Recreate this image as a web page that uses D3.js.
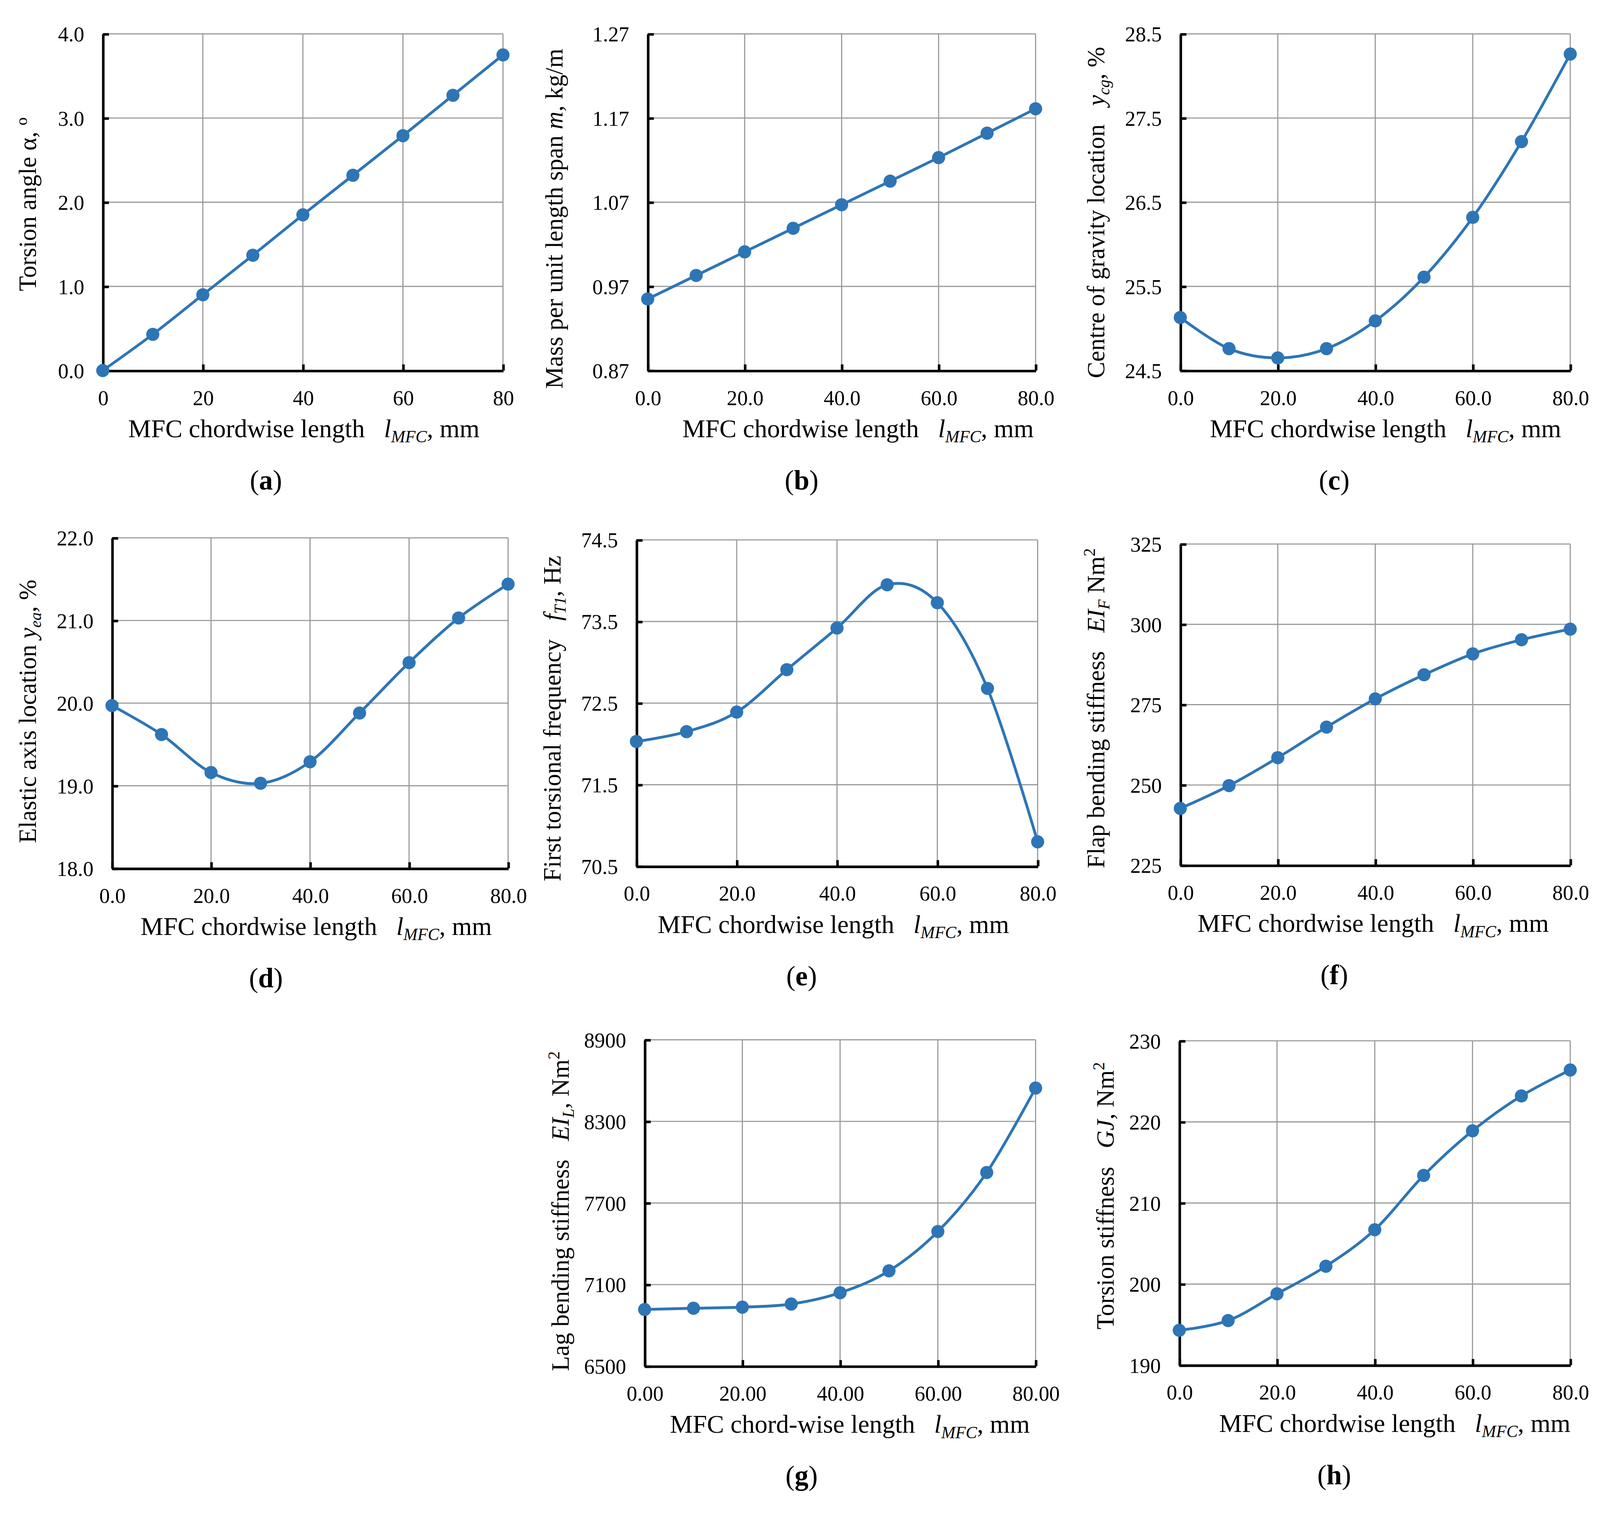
<!DOCTYPE html>
<html>
<head>
<meta charset="utf-8">
<script src="https://cdn.jsdelivr.net/npm/d3@7"></script>
<style>
  body { margin: 0; background: #fff; }
  text { font-family: "Liberation Serif", "Times New Roman", serif; fill: #000; white-space: pre; }
</style>
</head>
<body>
<div id="container"></div>
<script>
// x values shared by every panel (MFC chordwise length, mm)
var xValues = [0, 10, 20, 30, 40, 50, 60, 70, 80];
var xTicks = [0, 20, 40, 60, 80];

// series
var torsionAngle     = [0, 0.43, 0.90, 1.37, 1.85, 2.32, 2.79, 3.27, 3.75];
var massPerSpan      = [0.955, 0.983, 1.011, 1.039, 1.067, 1.095, 1.123, 1.152, 1.181];
var cgLocation       = [25.13, 24.76, 24.65, 24.76, 25.09, 25.61, 26.32, 27.22, 28.26];
var eaLocation       = [19.97, 19.62, 19.16, 19.03, 19.29, 19.88, 20.49, 21.03, 21.44];
var torsionalFreq    = [72.03, 72.15, 72.39, 72.91, 73.42, 73.95, 73.73, 72.68, 70.80];
var flapStiffness    = [242.7, 249.8, 258.5, 268.0, 276.8, 284.3, 290.8, 295.2, 298.5];
var lagStiffness     = [6917, 6926, 6934, 6957, 7040, 7201, 7490, 7924, 8545];
var torsionStiffness = [194.3, 195.5, 198.8, 202.2, 206.7, 213.4, 218.9, 223.2, 226.4];

// y tick values per panel
var ticksA = [0, 1, 2, 3, 4];
var ticksB = [0.87, 0.97, 1.07, 1.17, 1.27];
var ticksC = [24.5, 25.5, 26.5, 27.5, 28.5];
var ticksD = [18, 19, 20, 21, 22];
var ticksE = [70.5, 71.5, 72.5, 73.5, 74.5];
var ticksF = [225, 250, 275, 300, 325];
var ticksG = [6500, 7100, 7700, 8300, 8900];
var ticksH = [190, 200, 210, 220, 230];

// axis titles as rich text parts (i = italic, s = sub/sup)
var xTitle = [{t: "MFC chordwise length   "}, {t: "l", i: 1}, {t: "MFC", i: 1, s: "sub"}, {t: ", mm"}];
var xTitleG = [{t: "MFC chord-wise length   "}, {t: "l", i: 1}, {t: "MFC", i: 1, s: "sub"}, {t: ", mm"}];

var panels = [
  {tag: "a", y: torsionAngle, ticks: ticksA, yf: ".1f", xf: "d",
   left: 100, right: 490, top: 33, bottom: 361, ytx: 27, yty: 199, xtx: 296, lx: 259,
   ytitle: [{t: "Torsion angle α, "}, {t: "o", s: "sup"}], xtitle: xTitle},
  {tag: "b", y: massPerSpan, ticks: ticksB, yf: ".2f", xf: ".1f",
   left: 631, right: 1009, top: 33, bottom: 361, ytx: 540, yty: 213, xtx: 836, lx: 781,
   ytitle: [{t: "Mass per unit length span "}, {t: "m", i: 1}, {t: ", kg/m"}], xtitle: xTitle},
  {tag: "c", y: cgLocation, ticks: ticksC, yf: ".1f", xf: ".1f",
   left: 1150, right: 1530, top: 33, bottom: 361, ytx: 1068, yty: 207, xtx: 1350, lx: 1300,
   ytitle: [{t: "Centre of gravity location   "}, {t: "y", i: 1}, {t: "cg", i: 1, s: "sub"}, {t: ", %"}], xtitle: xTitle},
  {tag: "d", y: eaLocation, ticks: ticksD, yf: ".1f", xf: ".1f",
   left: 109, right: 495, top: 524, bottom: 846, ytx: 27, yty: 693, xtx: 308, lx: 259,
   ytitle: [{t: "Elastic axis location "}, {t: "y", i: 1}, {t: "ea", i: 1, s: "sub"}, {t: ", %"}], xtitle: xTitle},
  {tag: "e", y: torsionalFreq, ticks: ticksE, yf: ".1f", xf: ".1f",
   left: 620, right: 1011, top: 526, bottom: 844, ytx: 538, yty: 700, xtx: 812, lx: 781,
   ytitle: [{t: "First torsional frequency   "}, {t: "f", i: 1}, {t: "T1", i: 1, s: "sub"}, {t: ", Hz"}], xtitle: xTitle},
  {tag: "f", y: flapStiffness, ticks: ticksF, yf: "d", xf: ".1f",
   left: 1150, right: 1530, top: 530, bottom: 843, ytx: 1068, yty: 690, xtx: 1338, lx: 1300,
   ytitle: [{t: "Flap bending stiffness   "}, {t: "EI", i: 1}, {t: "F", i: 1, s: "sub"}, {t: " Nm"}, {t: "2", s: "sup"}], xtitle: xTitle},
  {tag: "g", y: lagStiffness, ticks: ticksG, yf: "d", xf: ".2f",
   left: 628, right: 1009, top: 1013, bottom: 1331, ytx: 546, yty: 1180, xtx: 828, lx: 781,
   ytitle: [{t: "Lag bending stiffness   "}, {t: "EI", i: 1}, {t: "L", i: 1, s: "sub"}, {t: ", Nm"}, {t: "2", s: "sup"}], xtitle: xTitleG},
  {tag: "h", y: torsionStiffness, ticks: ticksH, yf: "d", xf: ".1f",
   left: 1149, right: 1530, top: 1014, bottom: 1330, ytx: 1077, yty: 1165, xtx: 1359, lx: 1300,
   ytitle: [{t: "Torsion stiffness   "}, {t: "GJ", i: 1}, {t: ", Nm"}, {t: "2", s: "sup"}], xtitle: xTitle}
];

var W = 1568, H = 1475;
var blue = "#2e75b6";

var svg = d3.select("#container").append("svg")
    .attr("width", 4120)
    .attr("height", 3875)
    .attr("viewBox", "0 0 " + W + " " + H);

svg.append("rect").attr("width", W).attr("height", H).attr("fill", "#fff");

// writes parts into a text element, handling italics and sub/superscripts
function rich(text, parts) {
  var shift = 0;
  parts.forEach(function(p) {
    var target = p.s == "sub" ? 5 : p.s == "sup" ? -9 : 0;
    var ts = text.append("tspan").text(p.t).attr("dy", target - shift);
    shift = target;
    if (p.i) ts.attr("font-style", "italic");
    if (p.s) ts.attr("font-size", "0.66em");
  });
}

panels.forEach(function(p) {
  var x = d3.scaleLinear().domain([0, 80]).range([p.left, p.right]);
  var y = d3.scaleLinear().domain([p.ticks[0], p.ticks[p.ticks.length - 1]]).range([p.bottom, p.top]);
  var g = svg.append("g");

  // gridlines
  g.append("g").selectAll("line").data(p.ticks.slice(1)).enter().append("line")
      .attr("x1", p.left).attr("x2", p.right)
      .attr("y1", function(d) { return y(d); }).attr("y2", function(d) { return y(d); })
      .attr("stroke", "#999").attr("stroke-width", 1.1);
  g.append("g").selectAll("line").data(xTicks.slice(1)).enter().append("line")
      .attr("y1", p.top).attr("y2", p.bottom)
      .attr("x1", function(d) { return x(d); }).attr("x2", function(d) { return x(d); })
      .attr("stroke", "#999").attr("stroke-width", 1.1);

  // axes, tick marks point into the plot
  var yAxis = d3.axisLeft(y).tickValues(p.ticks).tickFormat(d3.format(p.yf))
      .tickSizeInner(-6).tickSizeOuter(0).tickPadding(18);
  var xAxis = d3.axisBottom(x).tickValues(xTicks).tickFormat(d3.format(p.xf))
      .tickSizeInner(-6).tickSizeOuter(0).tickPadding(19);
  var ya = g.append("g").attr("transform", "translate(" + p.left + ",0)").call(yAxis);
  var xa = g.append("g").attr("transform", "translate(0," + p.bottom + ")").call(xAxis);
  [ya, xa].forEach(function(a) {
    a.select(".domain").attr("stroke", "#000").attr("stroke-width", 2.5);
    a.selectAll(".tick line").attr("stroke", "#000").attr("stroke-width", 2.5);
    a.selectAll(".tick text").attr("font-size", 20.5)
      .style("font-family", "'Liberation Serif', serif").attr("fill", "#000");
  });
  ya.selectAll(".tick text").attr("dy", "0.34em");

  // smoothed series line and markers
  var pts = xValues.map(function(v, i) { return [v, p.y[i]]; });
  var line = d3.line()
      .x(function(d) { return x(d[0]); })
      .y(function(d) { return y(d[1]); })
      .curve(d3.curveCardinal.tension(0));
  g.append("path").datum(pts).attr("d", line)
      .attr("fill", "none").attr("stroke", blue).attr("stroke-width", 2.7);
  g.selectAll("circle").data(pts).enter().append("circle")
      .attr("cx", function(d) { return x(d[0]); })
      .attr("cy", function(d) { return y(d[1]); })
      .attr("r", 6.4).attr("fill", blue);

  // axis titles
  var yt = g.append("text")
      .attr("transform", "translate(" + (p.ytx + 8) + "," + p.yty + ") rotate(-90)")
      .attr("text-anchor", "middle").attr("font-size", 24);
  rich(yt, p.ytitle);
  var xt = g.append("text")
      .attr("x", p.xtx).attr("y", p.bottom + 65)
      .attr("text-anchor", "middle").attr("font-size", 25);
  rich(xt, p.xtitle);

  // panel label (a), (b), ...
  var lab = g.append("text")
      .attr("x", p.lx).attr("y", p.bottom + 116)
      .attr("text-anchor", "middle").attr("font-size", 27);
  lab.append("tspan").text("(");
  lab.append("tspan").text(p.tag).attr("font-weight", "bold");
  lab.append("tspan").text(")");
});
</script>
</body>
</html>
